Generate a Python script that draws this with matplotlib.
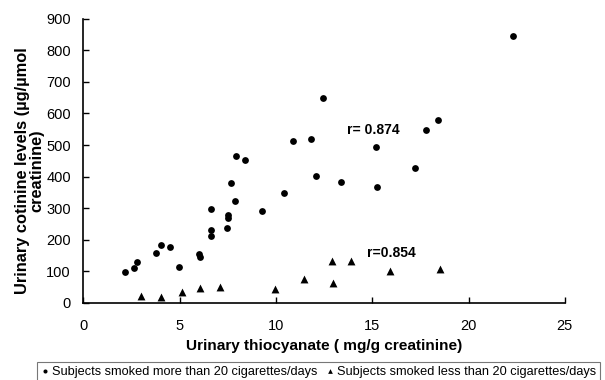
import matplotlib
matplotlib.use("Agg")
import matplotlib.pyplot as plt
import numpy as np

plt.rcParams['font.family'] = ['Liberation Sans', 'DejaVu Sans']

# more than 20 cigarettes/day
heavy_x = [2.16, 2.62, 2.78, 3.75, 4.04, 4.49, 4.96, 5.98, 6.03, 6.61, 6.61, 6.61,
           7.45, 7.52, 7.52, 7.66, 7.87, 7.90, 8.37, 9.29, 10.43, 10.86, 11.84,
           12.09, 12.46, 13.38, 15.21, 15.25, 17.24, 17.79, 18.4, 22.33]
heavy_y = [97, 109, 128, 159, 184, 177, 113, 156, 144, 296, 230, 211,
           236, 278, 268, 380, 321, 466, 451, 292, 348, 513, 519,
           401, 649, 382, 494, 367, 428, 546, 580, 847]

# less than 20 cigarettes/day
light_x = [3.0, 4.03, 5.1, 6.07, 7.09, 9.93, 11.44, 12.89, 12.94, 13.9, 15.94, 18.53]
light_y = [21, 18, 33, 47, 49, 45, 75, 133, 64, 133, 101, 106]

r_labels = ["r= 0.874", "r=0.854"]

fig = plt.figure(figsize=(6.05, 3.8), dpi=100)
ax = fig.add_axes([0.138, 0.2034, 0.7955, 0.747])

h1 = ax.scatter(heavy_x, heavy_y, s=24, marker='o', color='black', linewidths=0)
h2 = ax.scatter(light_x, light_y, s=32, marker='^', color='black', linewidths=0)

ax.text(13.67, 549, r_labels[0], fontsize=10, fontweight='bold', va='center')
ax.text(14.71, 159, r_labels[1], fontsize=10, fontweight='bold', va='center')

ax.set_xlim(0, 25)
ax.set_ylim(0, 900)
ax.set_xticks(np.arange(0, 26, 5))
ax.set_yticks(np.arange(0, 901, 100))
ax.tick_params(direction='in', length=4, width=1, labelsize=10.5, color='black')
ax.tick_params(axis='y', pad=9)
ax.tick_params(axis='x', pad=12)
for side in ['top', 'right']:
    ax.spines[side].set_visible(False)
for side in ['left', 'bottom']:
    ax.spines[side].set_linewidth(1.2)

ax.set_xlabel("Urinary thiocyanate ( mg/g creatinine)", fontsize=11.1, fontweight='bold', labelpad=4)
ax.set_ylabel("Urinary cotinine levels (\u00b5g/\u00b5mol\ncreatinine)", fontsize=11.8,
              fontweight='bold', linespacing=0.95)
ax.yaxis.set_label_coords(-0.082, 0.464)

leg = fig.legend([h1, h2],
                 ["Subjects smoked more than 20 cigarettes/days",
                  "Subjects smoked less than 20 cigarettes/days"],
                 loc='upper left', bbox_to_anchor=(37 / 605, 1 - 362 / 380),
                 ncol=2, fontsize=9.2, frameon=True, fancybox=False, borderpad=0.3,
                 handlelength=0.6, handletextpad=0.25, columnspacing=0.7,
                 markerscale=0.6, borderaxespad=0)
leg.get_frame().set_edgecolor('#555555')
leg.get_frame().set_linewidth(0.8)

fig.savefig("out.png", dpi=100)
